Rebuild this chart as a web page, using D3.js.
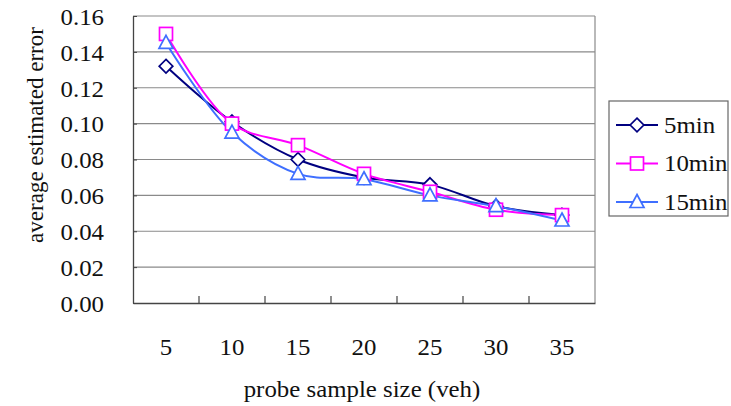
<!DOCTYPE html>
<html><head><meta charset="utf-8">
<script src="https://cdn.jsdelivr.net/npm/d3@7"></script>
<style>body{margin:0;background:#fff}svg{display:block}</style>
</head><body>
<script>
const categories = [5, 10, 15, 20, 25, 30, 35];
const seriesNames = ["5min", "10min", "15min"];
const values5 = [0.132, 0.101, 0.080, 0.070, 0.066, 0.054, 0.049];
const values10 = [0.150, 0.100, 0.088, 0.072, 0.062, 0.052, 0.049];
const values15 = [0.145, 0.095, 0.072, 0.069, 0.060, 0.054, 0.046];
const yTicks = [0, 0.02, 0.04, 0.06, 0.08, 0.10, 0.12, 0.14, 0.16];
const colors = ["#000080", "#ff00ff", "#3f6fff"];
const shapes = ["diamond", "square", "triangle"];
const series = [values5, values10, values15];

const FONT = "Liberation Serif, Times New Roman, Times, DejaVu Serif, serif";
const STRETCH = 1.08;
const W = 731, H = 406;
const m = {l: 133, t: 16, r: 595, b: 303};
const svg = d3.select("body").append("svg").attr("width", W).attr("height", H);

const x = d3.scaleBand().domain(categories).range([m.l, m.r]);
const y = d3.scaleLinear().domain([0, 0.16]).range([m.b, m.t]);

svg.append("g").selectAll("line").data(yTicks.slice(1)).join("line")
  .attr("x1", m.l).attr("x2", m.r).attr("y1", d => y(d)).attr("y2", d => y(d))
  .attr("stroke", "#8a8a8a").attr("stroke-width", 1.2);
svg.append("line").attr("x1", m.r).attr("x2", m.r).attr("y1", m.t).attr("y2", m.b)
  .attr("stroke", "#8a8a8a").attr("stroke-width", 1.2);

const yAxis = svg.append("g").attr("transform", `translate(${m.l},0)`)
  .call(d3.axisLeft(y).tickValues(yTicks).tickFormat(d3.format(".2f")).tickSizeInner(-4).tickSizeOuter(0).tickPadding(29));
yAxis.attr("font-family", FONT).attr("font-size", 23);
yAxis.select(".domain").attr("stroke", "#444").attr("stroke-width", 1.3);
yAxis.selectAll(".tick line").attr("stroke", "#444");
yAxis.selectAll("text").attr("fill", "#111").attr("dy", "0.36em").classed("stretch", true);

const xAxis = svg.append("g").attr("transform", `translate(0,${m.b})`)
  .call(d3.axisBottom(x).tickSize(0).tickPadding(36));
xAxis.attr("font-family", FONT).attr("font-size", 23);
xAxis.select(".domain").attr("stroke", "#444").attr("stroke-width", 1.3);
xAxis.selectAll("text").attr("fill", "#111").classed("stretch", true);
svg.append("g").selectAll("line").data(categories.slice(1)).join("line")
  .attr("x1", d => x(d)).attr("x2", d => x(d)).attr("y1", m.b).attr("y2", m.b - 7)
  .attr("stroke", "#444").attr("stroke-width", 1.2);

svg.append("text").attr("x", 362).attr("y", 397).attr("text-anchor", "middle").classed("stretch", true)
  .attr("font-family", FONT).attr("font-size", 23).attr("fill", "#111").text("probe sample size (veh)");
svg.append("text").attr("transform", "translate(43,135) rotate(-90)").attr("text-anchor", "middle")
  .attr("font-family", FONT).attr("font-size", 23).attr("fill", "#111").text("average estimated error");

function marker(sel, shape, color) {
  if (shape === "diamond") sel.append("path").attr("d", "M0,-6.8L6.8,0L0,6.8L-6.8,0Z");
  else if (shape === "square") sel.append("rect").attr("x", -6.5).attr("y", -6.5).attr("width", 13).attr("height", 13);
  else sel.append("path").attr("d", "M0,-7.5L7,5.5L-7,5.5Z");
  sel.selectAll("path,rect").attr("fill", "#fff").attr("stroke", color).attr("stroke-width", 1.7);
}

const line = d3.line().x((d, i) => x(categories[i]) + x.bandwidth() / 2).y(d => y(d)).curve(d3.curveCatmullRom.alpha(0.5));
series.forEach((vals, si) => {
  svg.append("path").attr("d", line(vals)).attr("fill", "none").attr("stroke", colors[si]).attr("stroke-width", 2);
});
series.forEach((vals, si) => {
  vals.forEach((v, i) => {
    const g = svg.append("g").attr("transform", `translate(${x(categories[i]) + x.bandwidth() / 2},${y(v)})`);
    marker(g, shapes[si], colors[si]);
  });
});

const lg = svg.append("g");
lg.append("rect").attr("x", 609).attr("y", 101).attr("width", 119).attr("height", 115)
  .attr("fill", "#fff").attr("stroke", "#666").attr("stroke-width", 1.2);
seriesNames.forEach((name, i) => {
  const cy = 125 + i * 38.5;
  lg.append("line").attr("x1", 616).attr("x2", 658).attr("y1", cy).attr("y2", cy).attr("stroke", colors[i]).attr("stroke-width", 2);
  const g = lg.append("g").attr("transform", `translate(637,${cy})`);
  marker(g, shapes[i], colors[i]);
  lg.append("text").attr("x", 664).attr("y", cy + 7.5).attr("font-family", FONT).attr("font-size", 23).attr("fill", "#111").text(name).classed("stretch", true);
});

svg.selectAll("text.stretch").each(function() {
  const len = this.getComputedTextLength();
  d3.select(this).attr("textLength", len * STRETCH).attr("lengthAdjust", "spacingAndGlyphs");
});
</script>
</body></html>
